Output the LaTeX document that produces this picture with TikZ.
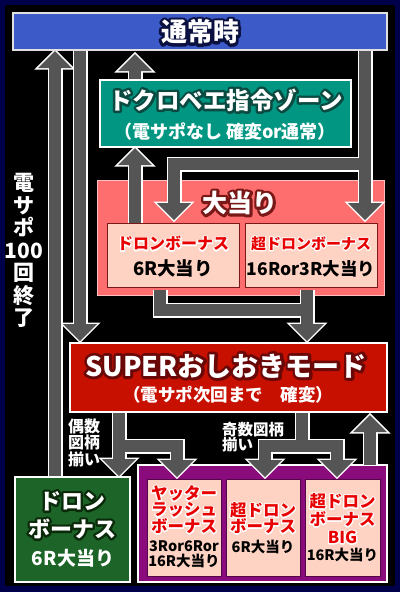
\documentclass[tikz,border=0pt]{standalone}
\usepackage{fontspec}
\setmainfont{Noto Sans CJK JP}
\newfontfamily\olfont{Noto Sans CJK JP}[RawFeature={embolden=15}]
\newfontfamily\olfontB{Noto Sans CJK JP}[RawFeature={embolden=21}]
\usetikzlibrary{calc}
\definecolor{navyB}{HTML}{00004A}
\definecolor{tsujoB}{HTML}{3C5AC8}
\definecolor{dokuroC}{HTML}{009682}
\definecolor{pinkC}{HTML}{FF6E6E}
\definecolor{salmonC}{HTML}{FFD3C3}
\definecolor{superC}{HTML}{C81000}
\definecolor{greenC}{HTML}{1C6428}
\definecolor{purpleC}{HTML}{8A0C7C}
\definecolor{grayA}{HTML}{555555}
\definecolor{redT}{HTML}{E80000}
\definecolor{olNavy}{HTML}{0A1040}
\definecolor{olTeal}{HTML}{0A4A40}
\definecolor{olRed}{HTML}{7A1818}
\definecolor{olSuper}{HTML}{6A0808}
\definecolor{olGreen}{HTML}{0A2A0A}
\pgfdeclarelayer{bg}
\pgfdeclarelayer{aw}
\pgfdeclarelayer{ag}
\pgfsetlayers{bg,aw,ag,main}
\newcommand\jfs[2]{\fontsize{#1}{#2}\selectfont\bfseries}
\newcommand\otx[2]{\special{pdf:literal direct 1 j}\rlap{\olfont\color{#1}#2}#2}
\newcommand\otxB[2]{\special{pdf:literal direct 1 j}\rlap{\olfontB\color{#1}#2}#2}
\newcommand\ahead[3]{\path[#3, shift={(#1)}, rotate=#2] (-17,-17) -- (17,-17) -- (0,0) -- cycle;}
\newcommand\allarrows[2]{%
  \draw[#1] (green.north -| 55,0) -- ($(t1)+(0,15)$);
  \ahead{t1}{180}{#2}
  \draw[#1] ($(tsujo.south -| 80,0)+(0,-3)$) -- ($(t2)+(0,-15)$);
  \ahead{t2}{0}{#2}
  \draw[#1] ($(dokuro.north -| 135,0)+(0,3)$) -- ($(t3)+(0,15)$);
  \ahead{t3}{180}{#2}
  \draw[#1] ($(dron1.north -| 135,0)+(0,3)$) -- ($(t4)+(0,15)$);
  \ahead{t4}{180}{#2}
  \draw[#1] ($(tsujo.south -| 365,0)+(0,-3)$) -- ($(t5b)+(0,-15)$);
  \draw[#1] (j5) -- (j5 -| 174,0) -- ($(t5a)+(0,-15)$);
  \ahead{t5a}{0}{#2}
  \ahead{t5b}{0}{#2}
  \draw[#1] ($(dron1.south -| 160,0)+(0,3)$) -- (j6 -| 160,0) -- (j6);
  \draw[#1] ($(dron2.south -| 307,0)+(0,3)$) -- ($(t6)+(0,-15)$);
  \ahead{t6}{0}{#2}
  \draw[#1] ($(super.south -| 119,0)+(0,-3)$) -- ($(t7a)+(0,-15)$);
  \draw[#1] (j7) -- (j7 -| 177,0) -- ($(t7b)+(0,-15)$);
  \ahead{t7a}{0}{#2}
  \ahead{t7b}{0}{#2}
  \draw[#1] ($(super.south -| 302,0)+(0,-3)$) -- (j8);
  \draw[#1] ($(t8a)+(0,-15)$) -- (j8 -| 265,0) -- (j8 -| 337,0) -- ($(t8b)+(0,-15)$);
  \ahead{t8a}{0}{#2}
  \ahead{t8b}{0}{#2}
  \draw[#1] (purple.north -| 370,0) -- ($(t9)+(0,15)$);
  \ahead{t9}{180}{#2}
}
\begin{document}
\begin{tikzpicture}[x=1pt,y=-1pt,
  boxsty/.style={draw=white, line width=1.5pt, inner sep=0pt, outer sep=0pt},
  innerbox/.style={line width=1pt, inner sep=0pt, outer sep=0pt, fill=salmonC},
  txt/.style={inner sep=0pt, outer sep=0pt, align=center},
  wshaft/.style={draw=white, line width=15pt, line join=miter},
  gshaft/.style={draw=grayA, line width=12pt, line join=miter},
  whead/.style={fill=white, draw=white, line width=3pt, line join=miter},
  ghead/.style={fill=grayA}]
\useasboundingbox (0,0) rectangle (400,592);
\begin{pgfonlayer}{bg}
\fill[navyB] (0,0) rectangle (400,592);
\fill[black] (5,5) rectangle (395,586);
\node[draw=pinkC!45!white, line width=1pt, fill=pinkC, inner sep=0pt, outer sep=0pt, minimum width=287pt, minimum height=115pt] (atari) at (240.5,237.5) {};
\node[boxsty, fill=purpleC, minimum width=249pt, minimum height=117pt] (purple) at (262.5,523.5) {};
\end{pgfonlayer}

\node[boxsty, draw=white!88!black, fill=tsujoB, minimum width=374pt, minimum height=37pt] (tsujo) at (200,31.5) {};
\node[boxsty, fill=dokuroC, minimum width=251pt, minimum height=67pt] (dokuro) at (225.5,113.5) {};
\node[innerbox, draw=olRed, minimum width=132pt, minimum height=64pt] (dron1) at (173,255) {};
\node[innerbox, draw=olRed, minimum width=132pt, minimum height=64pt] (dron2) at (311,255) {};
\node[boxsty, fill=superC, minimum width=317pt, minimum height=69pt] (super) at (228.5,377.5) {};
\node[boxsty, fill=greenC, minimum width=115pt, minimum height=105pt] (green) at (72.5,529.5) {};
\node[innerbox, draw=purpleC!60!black, minimum width=74pt, minimum height=97pt] (p1) at (184,527.5) {};
\node[innerbox, draw=purpleC!60!black, minimum width=74pt, minimum height=97pt] (p2) at (263,527.5) {};
\node[innerbox, draw=purpleC!60!black, minimum width=75pt, minimum height=97pt] (p3) at (342.5,527.5) {};

\coordinate (t1) at ($(tsujo.south -| 55,0)+(0,1)$);
\coordinate (t2) at ($(super.north -| 80,0)+(0,-2)$);
\coordinate (t3) at ($(tsujo.south -| 135,0)+(0,4)$);
\coordinate (t4) at ($(dokuro.south -| 135,0)+(0,1)$);
\coordinate (j5) at (365,164);
\coordinate (t5a) at ($(dron1.north -| 174,0)+(0,-3)$);
\coordinate (t5b) at ($(dron2.north -| 365,0)+(0,-3)$);
\coordinate (j6) at (307,310);
\coordinate (t6) at ($(super.north -| 307,0)+(0,-2)$);
\coordinate (j7) at (119,446);
\coordinate (t7a) at ($(green.north -| 119,0)+(0,-1)$);
\coordinate (t7b) at ($(p1.north -| 177,0)+(0,-2)$);
\coordinate (j8) at (302,446);
\coordinate (t8a) at ($(p2.north -| 265,0)+(0,-2)$);
\coordinate (t8b) at ($(p3.north -| 337,0)+(0,-2)$);
\coordinate (t9) at ($(super.south -| 370,0)+(0,3)$);

\begin{pgfonlayer}{aw}
\allarrows{wshaft}{whead}
\end{pgfonlayer}
\begin{pgfonlayer}{ag}
\allarrows{gshaft}{ghead}
\end{pgfonlayer}

\node[txt, text=white, font=\jfs{26}{26}] (tsujoT) at (200,32) {\otxB{olNavy}{通常時}};
\node[txt, text=white, font=\jfs{23.5}{24}] (dokuroT) at (226,100) {\otxB{olTeal}{ドクロベエ指令ゾーン}};
\node[txt, text=white, font=\jfs{18}{18}] (dokuroS) at (225,131.5) {（電サポなし 確変or通常）};
\node[txt, text=white, font=\jfs{25}{25}] (atariT) at (240,203) {\otxB{olRed}{大当り}};
\node[txt, text=redT, font=\jfs{16}{16}] (dron1T) at (173,243.5) {\otx{white}{ドロンボーナス}};
\node[txt, text=black, font=\jfs{18.5}{18}] (dron1S) at (173,268.5) {6R大当り};
\node[txt, text=redT, font=\jfs{15}{15}] (dron2T) at (311,243.5) {\otx{white}{超ドロンボーナス}};
\node[txt, text=black, font=\jfs{17.5}{18}] (dron2S) at (311,268.5) {16Ror3R大当り};
\node[txt, text=white, font=\jfs{27}{27}] (superT) at (226,366) {\otxB{olSuper}{SUPERおしおきモード}};
\node[txt, text=white, font=\jfs{17.5}{17}] (superS) at (228,394.5) {（電サポ次回まで　確変）};
\node[txt, text=white, font=\jfs{22}{28}] (greenT) at (72,515) {\otxB{olGreen}{ドロン}\\\otxB{olGreen}{ボーナス}};
\node[txt, text=white, font=\jfs{19}{19}] (greenS) at (73,558.5) {6R大当り};
\node[txt, text=redT, font=\jfs{16.5}{16.5}] (p1T) at (184,509.5) {\otx{white}{ヤッター}\\\otx{white}{ラッシュ}\\\otx{white}{ボーナス}};
\node[txt, text=black, font=\jfs{14.5}{15}] (p1S) at (184,554) {3Ror6Ror\\16R大当り};
\node[txt, text=redT, font=\jfs{16.5}{16}] (p2T) at (263,518) {\otx{white}{超ドロン}\\\otx{white}{ボーナス}};
\node[txt, text=black, font=\jfs{14.5}{14}] (p2S) at (263,546.5) {6R大当り};
\node[txt, text=redT, font=\jfs{16.5}{18}] (p3T) at (342.5,518.5) {\otx{white}{超ドロン}\\\otx{white}{ボーナス}\\\otx{white}{BIG}};
\node[txt, text=black, font=\jfs{14.5}{14}] (p3S) at (342.5,555) {16R大当り};
\node[txt, text=white, font=\jfs{16}{16.5}, align=left] (guu) at (84,442.5) {偶数\\図柄\\揃い};
\node[txt, text=white, font=\jfs{15.5}{15}, align=left] (kisuu) at (253,437) {奇数図柄\\揃い};
\node[txt, text=white, font=\jfs{21}{22.5}] (densapo) at (24,250.5) {電\\サ\\ポ\\100\\回\\終\\了};
\end{tikzpicture}
\end{document}
